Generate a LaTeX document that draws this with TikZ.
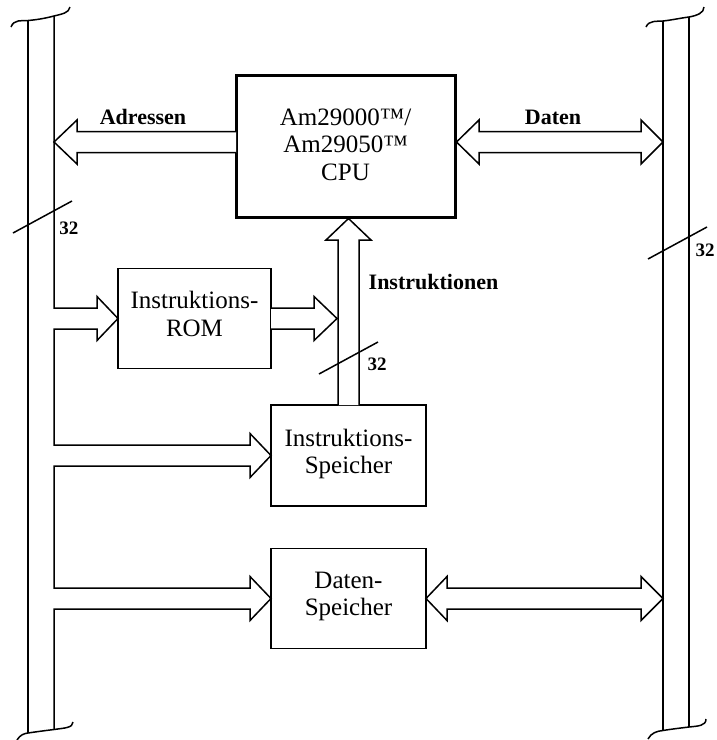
\documentclass[tikz,border=0pt]{standalone}
\usepackage{fontspec}
\setmainfont{Liberation Serif}
\usetikzlibrary{calc}
\begin{document}
\begin{tikzpicture}[x=1pt,y=-1pt,line width=1.5pt,line join=miter,
  boxnode/.style={draw,rectangle,inner sep=0pt,outer sep=0pt},
  boxtext/.style={anchor=base,inner sep=0pt,font=\fontsize{25}{27.5}\selectfont},
  lbl/.style={anchor=base,inner sep=0pt,font=\fontsize{22}{22}\selectfont\bfseries},
  num/.style={anchor=base,inner sep=0pt,font=\fontsize{19}{19}\selectfont\bfseries},
  hollow/.style={draw,fill=white},
  tickmark/.style={draw}]
\useasboundingbox (0,0) rectangle (716,740);

% boxes
\node[boxnode,line width=3pt,minimum width=219pt,minimum height=142pt] (cpu) at (345.5,146) {};
\node[boxnode,minimum width=153pt,minimum height=100pt] (rom) at (194.5,318.5) {};
\node[boxnode,minimum width=155pt,minimum height=101pt] (is) at (348.5,455.5) {};
\node[boxnode,minimum width=155pt,minimum height=100pt] (ds) at (348.5,598.5) {};

\node[boxtext] (cputext) at (345.5,125) {\begin{tabular}[t]{@{}c@{}}Am29000™/\\Am29050™\\CPU\end{tabular}};
\node[boxtext] (romtext) at (194.5,308.5) {\begin{tabular}[t]{@{}c@{}}Instruktions-\\ROM\end{tabular}};
\node[boxtext] (istext) at (348.5,446) {\begin{tabular}[t]{@{}c@{}}Instruktions-\\Speicher\end{tabular}};
\node[boxtext] (dstext) at (348.5,588) {\begin{tabular}[t]{@{}c@{}}Daten-\\Speicher\end{tabular}};

% bus coordinates
\coordinate (lbA) at (28,20.5);
\coordinate (lbA2) at (28,733);
\coordinate (lbB) at (54,16);
\coordinate (lbB2) at (54,729.5);
\coordinate (rbA) at (663,21);
\coordinate (rbA2) at (663,730.5);
\coordinate (rbB) at (689,17);
\coordinate (rbB2) at (689,727);

% bus ends
\draw (11,27) .. controls (14,19) and (22,21) .. (lbA) .. controls (40,19.5) and (48,17.5) .. (lbB) .. controls (62,14) and (69,13) .. (70,7);
\draw (17,740) .. controls (20,735) and (24,733.5) .. (lbA2) .. controls (38,731.5) and (46,730.5) .. (lbB2) .. controls (64,728) and (73,728) .. (73,722);
\draw (646,27) .. controls (649,20) and (657,21.5) .. (rbA) .. controls (672,20) and (681,18) .. (rbB) .. controls (697,15.5) and (704,13) .. (704,7);
\draw (648,739) .. controls (651,733) and (657,731) .. (rbA2) .. controls (672,729) and (681,728) .. (rbB2) .. controls (698,726) and (706,726) .. (706,719);

% bus lines
\draw (lbA) -- (lbA2);
\draw (rbA) -- (rbA2);
\draw (rbB) -- (rbB2);
% left bus inner line with branch arrows
\draw (lbB) -- (54,308) -- (97,308) -- (97,296.5) -- (rom.west) -- (97,340.5) -- (97,329) -- (54,329)
      -- (54,445) -- (250,445) -- (250,433.5) -- (is.west) -- (250,477.5) -- (250,466) -- (54,466)
      -- (54,588) -- (250,588) -- (250,576.5) -- (ds.west) -- (250,620.5) -- (250,609) -- (54,609)
      -- (lbB2);

% Adressen arrow
\coordinate (adrTip) at (54,142);
\draw[hollow] (236,131.5) -- (77,131.5) -- (77,120) -- (adrTip) -- (77,164) -- (77,152.5) -- (236,152.5);
% Daten arrow
\coordinate (datL) at (456.5,142);
\coordinate (datR) at (663,142);
\draw[hollow] (datL) -- (479,120) -- (479,131.5) -- (641,131.5) -- (641,120) -- (datR) -- (641,164) -- (641,152.5) -- (479,152.5) -- (479,164) -- cycle;
% Instruktionen arrow
\coordinate (insTip) at (348.5,218.5);
\draw[hollow] (338,405) -- (338,240) -- (326,240) -- (insTip) -- (371,240) -- (359,240) -- (359,405);
% ROM output arrow
\coordinate (romTip) at (337,318.5);
\draw[hollow] (rom.east |- 0,308) -- (314,308) -- (314,296.5) -- (romTip) -- (314,340.5) -- (314,329) -- (rom.east |- 0,329);
% Daten-Speicher double arrow
\coordinate (dsR) at (663,598.5);
\draw[hollow] (ds.east) -- (447,576.5) -- (447,588) -- (641,588) -- (641,576.5) -- (dsR) -- (641,620.5) -- (641,609) -- (447,609) -- (447,620.5) -- cycle;

% width marks
\draw[tickmark] (13,233) -- (72,201);
\draw[tickmark] (648,259) -- (707,227);
\draw[tickmark] (319,374) -- (378,342);
\node[num] (n1) at (69,234.5) {32};
\node[num] (n2) at (705,256.5) {32};
\node[num] (n3) at (377,370) {32};

% labels
\node[lbl] (adr) at (143,124) {Adressen};
\node[lbl] (dat) at (553,124) {Daten};
\node[lbl] (ins) at (433.5,289.5) {Instruktionen};
\end{tikzpicture}
\end{document}
